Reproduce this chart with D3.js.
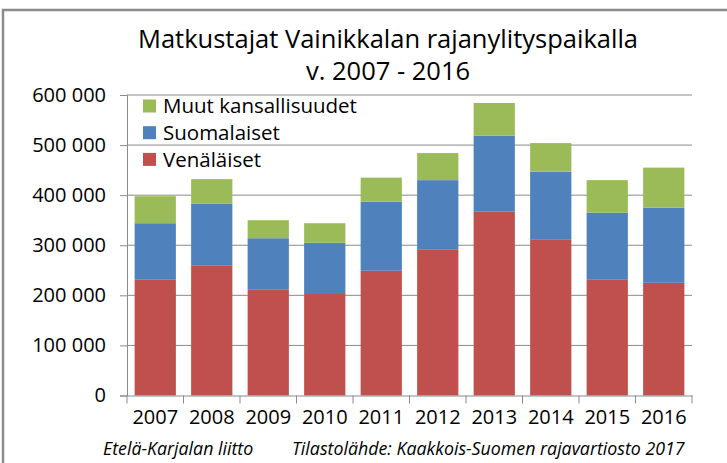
<!DOCTYPE html>
<html><head><meta charset="utf-8">
<script src="https://cdn.jsdelivr.net/npm/d3@7"></script>
<style>body{margin:0;background:#fff;}svg{display:block;font-family:"Open Sans",sans-serif;}</style>
</head><body><svg id="c" width="727" height="463"></svg>
<script>
const years = ["2007","2008","2009","2010","2011","2012","2013","2014","2015","2016"];
const venalaiset = [231000,260000,211000,204500,249000,292000,367000,312000,231000,225000];
const suomalaiset = [113000,123500,103000,100500,138000,138000,152000,135000,134000,150000];
const muut = [54000,48500,36000,39000,48000,54000,65000,57000,65000,80000];
const seriesNames = ["Venäläiset","Suomalaiset","Muut kansallisuudet"];
const colors = ["#C0504D","#4F81BD","#9BBB59"];
const yTicks = [0,100000,200000,300000,400000,500000,600000];
const titleLines = ["Matkustajat Vainikkalan rajanylityspaikalla","v. 2007 - 2016"];
const footLeft = "Etelä-Karjalan liitto";
const footRight = "Tilastolähde: Kaakkois-Suomen rajavartiosto 2017";

const svg = d3.select("#c");
const L=127,R=692,T=95,B=395.5;
// frame
svg.append("rect").attr("x",3).attr("y",10).attr("width",740).attr("height",480)
  .attr("fill","none").attr("stroke","#8c8c8c").attr("stroke-width",2.5);

const rows = years.map((y,i)=>({year:y,"Venäläiset":venalaiset[i],"Suomalaiset":suomalaiset[i],"Muut kansallisuudet":muut[i]}));
const stack = d3.stack().keys(seriesNames)(rows);

const x = d3.scaleBand().domain(years).range([L,R]).paddingInner(0.27).paddingOuter(0.135);
const y = d3.scaleLinear().domain([0,600000]).range([B,T]);
const fmt = v => d3.format(",")(v).replace(/,/g," ");

// gridlines
svg.append("g").selectAll("line").data(yTicks.filter(d=>d>0)).join("line")
  .attr("x1",L).attr("x2",R).attr("y1",d=>y(d)).attr("y2",d=>y(d))
  .attr("stroke","#8a8a8a").attr("stroke-width",1);

// bars
svg.append("g").selectAll("g").data(stack).join("g").attr("fill",(d,i)=>colors[i])
  .selectAll("rect").data(d=>d).join("rect")
  .attr("x",d=>x(d.data.year)).attr("width",x.bandwidth())
  .attr("y",d=>y(d[1])).attr("height",d=>y(d[0])-y(d[1]));

// y axis
const ya = svg.append("g").attr("transform",`translate(${L},0)`)
  .call(d3.axisLeft(y).tickValues(yTicks).tickFormat(fmt).tickSize(7).tickPadding(14));
ya.select(".domain").attr("stroke","#8a8a8a");
ya.selectAll(".tick line").attr("stroke","#8a8a8a");
ya.selectAll("text").attr("font-family","Open Sans").attr("font-size",20).attr("fill","#000");

// x axis
const xa = svg.append("g").attr("transform",`translate(0,${B})`)
  .call(d3.axisBottom(x).tickSize(0).tickPadding(14));
xa.select(".domain").attr("stroke","#8a8a8a");
xa.selectAll("text").attr("font-family","Open Sans").attr("font-size",20).attr("fill","#000");
// category boundary ticks
const bounds = d3.range(years.length+1).map(i=>L + i*(R-L)/years.length);
svg.append("g").selectAll("line").data(bounds).join("line")
  .attr("x1",d=>d).attr("x2",d=>d).attr("y1",B).attr("y2",B+8)
  .attr("stroke","#8a8a8a");

// title
svg.append("g").selectAll("text").data(titleLines).join("text")
  .attr("x",388).attr("y",(d,i)=>48+i*32).attr("text-anchor","middle")
  .attr("font-size",25.5).attr("fill","#000").text(d=>d);

// legend
const leg = svg.append("g");
const legOrder = [2,1,0];
legOrder.forEach((si,k)=>{
  const cy = 106 + k*26.7;
  leg.append("rect").attr("x",143).attr("y",cy-6.5).attr("width",13).attr("height",13).attr("fill",colors[si]);
  leg.append("text").attr("x",163).attr("y",cy).attr("dy","0.35em").attr("font-size",20.5).attr("fill","#000").text(seriesNames[si]);
});

// footer
svg.append("text").attr("x",103).attr("y",455).attr("font-size",17.8).attr("font-style","italic").attr("fill","#000").text(footLeft);
svg.append("text").attr("x",292).attr("y",455).attr("font-size",17.8).attr("font-style","italic").attr("fill","#000").text(footRight);
</script></body></html>
